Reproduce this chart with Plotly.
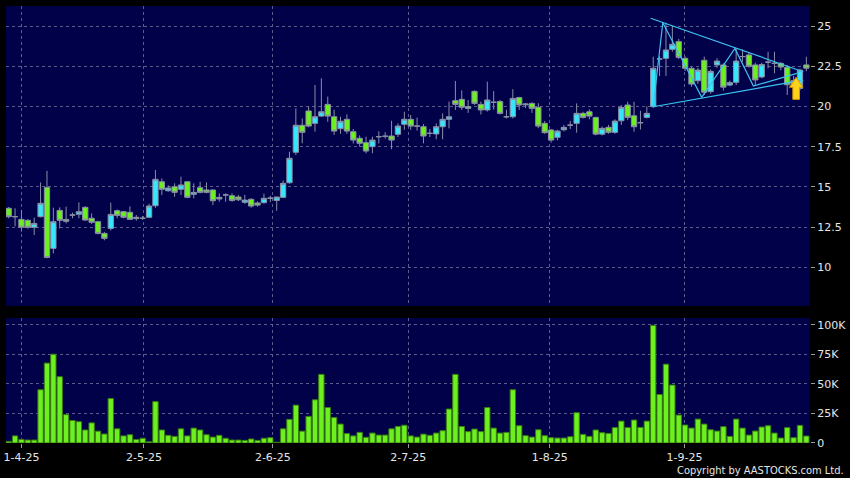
import plotly.graph_objects as go

# ---------------- data ----------------
opens = [13.67,13.15,12.98,12.92,12.49,13.15,14.97,11.18,13.54,12.98,
         13.25,13.30,13.73,13.05,12.84,12.11,12.42,13.52,13.46,13.42,
         13.03,13.05,13.11,13.83,15.32,14.76,15.01,14.85,15.32,14.54,
         14.95,14.81,14.81,14.35,14.50,14.45,14.37,14.04,14.23,14.00,
         14.02,14.30,14.16,14.35,15.26,17.15,18.83,19.72,18.95,19.40,
         20.13,19.36,18.62,19.20,18.43,18.02,17.75,17.50,18.12,18.15,
         18.16,18.27,18.89,19.20,18.78,18.74,18.33,18.29,18.74,19.20,
         20.36,20.44,19.88,20.94,20.13,19.78,20.26,20.30,19.36,19.36,
         20.55,20.10,20.19,19.95,18.95,18.54,18.08,18.55,18.84,18.95,
         19.57,19.67,19.32,18.28,18.70,18.39,19.11,20.09,19.42,18.99,
         19.32,19.99,22.95,22.99,23.55,24.03,22.99,22.37,21.60,22.87,
         20.92,22.58,22.58,21.33,21.50,23.10,23.20,22.58,21.83,22.75,
         22.68,22.68,22.43,21.40,21.12,22.58]
highs = [13.75,13.67,13.56,13.00,13.09,15.28,16.00,13.71,13.73,13.77,
         13.40,14.04,13.80,13.35,12.90,12.20,14.02,13.60,13.50,13.79,
         13.25,13.20,13.95,16.05,15.53,15.10,15.22,15.63,15.35,15.22,
         15.32,15.28,14.85,14.60,14.60,14.60,14.50,14.50,14.30,14.10,
         14.58,14.45,14.40,15.40,17.19,19.88,19.26,20.00,21.33,21.75,
         20.61,19.80,19.36,19.51,18.60,18.20,18.12,18.12,18.45,18.40,
         19.11,18.95,19.67,19.47,19.30,18.90,18.60,18.95,19.57,20.30,
         21.58,21.00,20.40,21.00,20.30,21.54,20.95,20.40,19.80,21.07,
         20.60,20.20,20.25,20.20,19.10,18.60,18.55,18.85,19.10,20.19,
         19.67,19.82,19.35,18.75,18.85,19.20,20.09,20.29,20.29,19.73,
         20.00,23.09,23.14,25.20,25.00,24.20,23.10,22.45,22.40,23.09,
         22.30,22.99,22.68,21.60,23.60,23.55,23.35,22.72,22.72,23.40,
         23.40,22.75,22.58,21.90,22.35,23.09]
lows = [13.05,12.55,12.22,12.40,12.01,13.10,10.56,10.87,12.42,12.73,
        13.05,13.05,12.90,12.70,12.05,11.68,12.28,13.05,13.05,12.95,
        12.90,12.95,13.05,13.70,14.49,14.70,14.39,14.49,14.30,14.29,
        14.60,14.60,13.87,14.08,14.08,14.08,14.12,13.95,13.70,13.77,
        13.96,14.06,13.52,14.30,15.20,16.98,17.71,18.70,18.43,19.35,
        19.05,18.23,18.30,18.30,17.70,17.50,17.09,17.09,17.70,18.00,
        17.34,18.10,18.55,18.55,18.50,17.71,18.10,17.96,17.96,18.64,
        19.78,19.78,19.60,20.10,19.50,19.68,19.80,19.50,19.25,19.25,
        19.78,19.90,19.60,18.65,18.30,17.75,17.90,18.45,18.60,18.37,
        19.25,19.20,18.20,18.20,18.30,18.30,18.85,19.15,18.43,18.57,
        19.25,19.90,21.89,21.90,23.40,22.95,22.20,21.23,21.40,20.71,
        20.80,22.40,20.99,21.25,21.33,22.78,22.40,21.30,21.75,22.37,
        22.06,22.25,20.71,21.10,21.00,22.20]
closes = [13.15,13.15,12.49,12.49,12.73,13.98,10.62,12.84,12.92,12.86,
          13.25,13.46,12.94,12.80,12.11,11.80,13.29,13.23,13.11,12.98,
          13.11,13.05,13.81,15.47,14.85,14.93,14.66,15.12,14.35,14.66,
          14.66,14.66,14.14,14.25,14.50,14.16,14.20,14.18,13.81,13.87,
          14.29,14.30,14.37,15.22,16.78,18.83,18.39,18.78,19.36,19.67,
          19.40,18.47,19.08,18.47,17.91,17.71,17.23,17.91,18.12,18.15,
          17.91,18.78,19.20,18.78,18.78,18.16,18.33,18.74,19.20,19.36,
          20.13,19.95,19.99,20.19,19.78,20.40,20.26,19.57,19.36,20.50,
          20.09,20.15,19.88,18.78,18.37,17.91,18.47,18.70,18.84,19.57,
          19.32,19.40,18.28,18.64,18.39,19.09,19.94,19.32,18.74,18.99,
          19.57,22.37,22.95,23.51,23.86,23.05,22.37,21.39,22.26,20.89,
          22.18,22.82,21.20,21.48,22.82,23.10,22.50,21.65,22.60,22.75,
          22.68,22.45,21.35,21.60,22.26,22.38]
volumes_k = [1.4,6,3,2.5,2.5,45,67.5,75,56,24,
             19,18,11,17,10,7.6,37.6,12,6,7,
             3,4,1,35,11,6.5,5.6,12,6,12.6,
             11,7,5,6.5,4,2.5,2.5,2.2,3.4,2.2,
             4,4.5,0.6,12,20,32,10,22.5,36.5,58,
             30,21.6,16,8,6,9,4.8,8.4,6.7,6.7,
             12,14,15,6,5,7.5,6.5,8.4,10.4,28.7,
             58,14,9.6,11.8,9.6,30,12.6,8.4,9,45,
             14.6,6.2,5,11.2,6.2,4.5,4.2,4.2,5.3,25.6,
             7.3,5.6,11,8.7,8.1,13,18.5,13,19.4,13.2,
             18.5,99.4,41,66.6,49,23.6,15.2,12.6,20.2,16,
             11.2,10.1,13.8,5.6,20.2,12.6,6.7,10.1,13.5,14.6,
             8.4,4.2,13,4.5,14.9,5.9]

date_tick_pos = [2, 21.2, 41.4, 62.6, 84.8, 105.9]
date_tick_labels = ["1-4-25", "2-5-25", "2-6-25", "2-7-25", "1-8-25", "1-9-25"]
price_ticks = [10, 12.5, 15, 17.5, 20, 22.5, 25]
price_tick_labels = ["10", "12.5", "15", "17.5", "20", "22.5", "25"]
vol_ticks_k = [0, 25, 50, 75, 100]
vol_tick_labels = ["0", "25K", "50K", "75K", "100K"]

# triangle pattern drawn on the chart (index, price)
upper_line = [(100.6, 25.48), (124.5, 22.16)]
lower_line = [(101.0, 19.98), (124.5, 21.64)]
zigzag = [(101.0, 19.98), (102.5, 25.2), (108.6, 20.57), (113.8, 23.61),
          (116.7, 21.27), (123.5, 22.06)]
arrow_at = (123.4, 21.81)

# ---------------- figure ----------------
idx = list(range(len(opens)))
CYAN = "#36e6fb"
GREEN = "#6cf01f"
EDGE = "#8a8fa6"
NAVY = "#01014a"
GRID = "#5b5b8c"

groups = {"up": [], "down": [], "flat": []}
for i in idx:
    if closes[i] > opens[i]:
        groups["up"].append(i)
    elif closes[i] < opens[i]:
        groups["down"].append(i)
    else:
        groups["flat"].append(i)

fills = {"up": CYAN, "down": GREEN, "flat": "#9a9aaa"}
fig = go.Figure()
for name, ids in groups.items():
    c = fills[name]
    fig.add_trace(go.Candlestick(
        x=ids,
        open=[opens[i] for i in ids], high=[highs[i] for i in ids],
        low=[lows[i] for i in ids], close=[closes[i] for i in ids],
        increasing=dict(fillcolor=c, line=dict(color=EDGE, width=1)),
        decreasing=dict(fillcolor=c, line=dict(color=EDGE, width=1)),
        whiskerwidth=0, showlegend=False, hoverinfo="skip",
        xaxis="x", yaxis="y"))

LINEC = "#3cc4f0"
for pts in (upper_line, lower_line, zigzag):
    fig.add_trace(go.Scatter(x=[p[0] for p in pts], y=[p[1] for p in pts],
                             mode="lines", line=dict(color=LINEC, width=1.2),
                             showlegend=False, hoverinfo="skip",
                             xaxis="x", yaxis="y"))

fig.add_trace(go.Bar(x=idx, y=[v * 1000 for v in volumes_k],
                     marker=dict(color=GREEN, line=dict(color="#3a7d12", width=1)),
                     showlegend=False, hoverinfo="skip", xaxis="x2", yaxis="y2"))

# yellow arrow
ax, ay = arrow_at
hw, sw, hh, tot = 1.05, 0.52, 0.62, 1.37
path = (f"M {ax},{ay} L {ax+hw},{ay-hh} L {ax+sw},{ay-hh} L {ax+sw},{ay-tot} "
        f"L {ax-sw},{ay-tot} L {ax-sw},{ay-hh} L {ax-hw},{ay-hh} Z")
fig.add_shape(type="path", path=path, xref="x", yref="y",
              fillcolor="#ffd21a", line=dict(color="#d99a00", width=1))

xr = [-0.42, 125.57]
common_x = dict(range=xr, tickmode="array", tickvals=date_tick_pos,
                showgrid=True, gridcolor=GRID, griddash="3px,3px", gridwidth=1,
                zeroline=False, showline=False, fixedrange=True)
fig.update_layout(
    width=850, height=478,
    paper_bgcolor="#000000", plot_bgcolor=NAVY,
    margin=dict(l=4, r=40, t=6, b=35),
    font=dict(family="DejaVu Sans", size=11, color="#e6e6e6"),
    bargap=0.16, boxgap=0.17, boxgroupgap=0,
    xaxis=dict(**common_x, anchor="y", showticklabels=False, ticks="",
               rangeslider=dict(visible=False)),
    xaxis2=dict(**common_x, anchor="y2", matches="x", ticktext=date_tick_labels,
                ticks="outside", ticklen=4, tickcolor="#9a9a9a",
                tickfont=dict(size=11, color="#e6e6e6")),
    yaxis=dict(domain=[0.3135, 1], range=[7.598, 26.243], side="right",
               tickmode="array", tickvals=price_ticks, ticktext=price_tick_labels,
               ticks="outside", ticklen=4, tickcolor="#9a9a9a",
               showgrid=True, gridcolor=GRID, griddash="3px,3px", zeroline=False),
    yaxis2=dict(domain=[0, 0.286], range=[0, 105600], side="right",
                tickmode="array", tickvals=[v * 1000 for v in vol_ticks_k],
                ticktext=vol_tick_labels,
                ticks="outside", ticklen=4, tickcolor="#9a9a9a",
                showgrid=True, gridcolor=GRID, griddash="3px,3px", zeroline=False),
    annotations=[dict(text="Copyright by AASTOCKS.com Ltd.", xref="paper", yref="paper",
                      x=1.0447, y=-0.062, xanchor="right", yanchor="middle",
                      showarrow=False,
                      font=dict(family="DejaVu Sans Condensed, DejaVu Sans",
                                size=11, color="#e6e6e6"))],
)
fig.write_html("out.html", config={"displayModeBar": False},
               post_script="document.body.style.margin='0';document.body.style.background='#000';")
